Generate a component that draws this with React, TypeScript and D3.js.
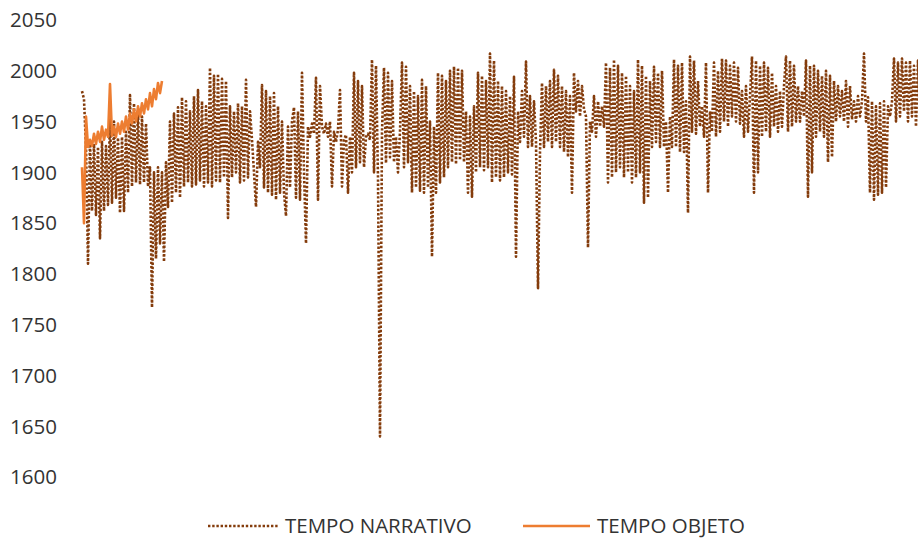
import React from "react";
import * as d3 from "d3";

const yTicks = [1600, 1650, 1700, 1750, 1800, 1850, 1900, 1950, 2000, 2050];

const seriesNames = ["TEMPO NARRATIVO", "TEMPO OBJETO"];

const tempoNarrativo = [
  1980, 1972, 1925, 1810, 1930, 1862, 1928, 1858, 1925, 1835,
  1930, 1862, 1926, 1868, 1955, 1870, 1950, 1875, 1934, 1860,
  1935, 1862, 1940, 1880, 1976, 1886, 1968, 1890, 1960, 1888,
  1955, 1890, 1948, 1886, 1905, 1767, 1900, 1815, 1905, 1830,
  1900, 1812, 1910, 1866, 1950, 1870, 1958, 1880, 1964, 1875,
  1974, 1886, 1970, 1890, 1960, 1886, 1975, 1888, 1981, 1892,
  1970, 1886, 1965, 1890, 2003, 1886, 1995, 1892, 1997, 1890,
  1992, 1895, 1990, 1855, 1965, 1895, 1960, 1900, 1968, 1890,
  1965, 1892, 1991, 1895, 1960, 1932, 1900, 1866, 1930, 1905,
  1986, 1885, 1980, 1880, 1975, 1878, 1978, 1873, 1965, 1880,
  1950, 1880, 1857, 1945, 1885, 1950, 1964, 1875, 1960, 1873,
  1998, 1900, 1830, 1945, 1935, 1948, 1938, 1993, 1873, 1985,
  1945, 1938, 1948, 1935, 1950, 1886, 1940, 1930, 1942, 1981,
  1886, 1932, 1937, 1880, 1935, 1900, 1998, 1905, 1990, 1910,
  1985, 1905, 1935, 1938, 1932, 2011, 1900, 2005, 1895, 1640,
  1940, 2003, 1909, 1998, 1915, 1990, 1910, 1935, 1900, 1940,
  2008, 1905, 2004, 1910, 1985, 1880, 1980, 1885, 1975, 1882,
  1991, 1880, 1985, 1885, 1950, 1817, 1945, 1880, 1998, 1890,
  1995, 1895, 1990, 1905, 2000, 1910, 2004, 1908, 2003, 1912,
  2000, 1910, 1960, 1880, 1955, 1876, 1965, 1900, 1998, 1905,
  1995, 1902, 1990, 1905, 2017, 1890, 2010, 1895, 1990, 1892,
  1985, 1895, 1980, 1900, 1975, 1898, 1994, 1817, 1960, 1930,
  1980, 1935, 2009, 1925, 1975, 1925, 1970, 1930, 1786, 1920,
  1988, 1925, 1985, 1930, 1990, 1925, 2001, 1930, 1995, 1925,
  1985, 1920, 1980, 1915, 1975, 1880, 1998, 1960, 1990, 1955,
  1985, 1962, 1955, 1826, 1950, 1940, 1975, 1935, 1970, 1945,
  1965, 1945, 2008, 1890, 2003, 1895, 2011, 1900, 2005, 1905,
  1998, 1895, 1995, 1900, 1985, 1890, 1980, 1895, 2011, 1900,
  2005, 1870, 1995, 1875, 1990, 1925, 2004, 1930, 1998, 1925,
  2000, 1925, 1950, 1880, 1955, 1925, 2011, 1925, 2005, 1920,
  2008, 1920, 1970, 1860, 2014, 1940, 2010, 1938, 1990, 1945,
  1965, 1935, 2008, 1880, 1960, 1940, 2008, 1935, 2000, 1940,
  2012, 1950, 2010, 1945, 2005, 1955, 2008, 1950, 2003, 1948,
  1980, 1935, 1985, 1940, 1975, 2014, 1880, 2010, 1900, 2005,
  1935, 2008, 1940, 2003, 1935, 1998, 1945, 1985, 1940, 1980,
  1945, 1985, 2014, 1940, 2010, 1945, 2005, 1950, 1985, 1950,
  1980, 1955, 2010, 1876, 2005, 1900, 2005, 1935, 2000, 1940,
  1995, 1935, 2000, 1910, 1995, 1915, 1990, 1950, 1985, 1955,
  1980, 1950, 1990, 1945, 1985, 1952, 1970, 1950, 1975, 1955,
  1970, 2017, 1950, 1974, 1880, 1970, 1873, 1965, 1878, 1968,
  1880, 1970, 1885, 1965, 1955, 1970, 2012, 1950, 2008, 1955,
  2012, 1960, 2008, 1950, 2010, 1955, 2005, 1945, 2010, 1950,
];

const tempoObjeto = [
  1905, 1850, 1955, 1925, 1932, 1926, 1938, 1928, 1940, 1930,
  1945, 1932, 1942, 1935, 1987, 1936, 1945, 1935, 1948, 1938,
  1950, 1940, 1955, 1942, 1958, 1948, 1962, 1950, 1965, 1955,
  1968, 1958, 1972, 1962, 1978, 1965, 1982, 1972, 1988, 1978,
  1990,
];

const W = 918;
const H = 540;
const FONT = "'Open Sans', 'Noto Sans', sans-serif";
const TEXT = "#333333";

export default function App() {
  const y = d3.scaleLinear().domain([1600, 2050]).range([477, 20]);
  const x = d3
    .scaleLinear()
    .domain([0, tempoNarrativo.length - 1])
    .range([82, 920]);

  const line = d3
    .line<number>()
    .x((_, i) => x(i))
    .y((d) => y(d));

  const legendY = 526;

  return (
    <div style={{ position: "fixed", left: 0, top: 0 }}>
      <svg width={W} height={H} style={{ display: "block", background: "#fff" }}>
        <defs>
          <clipPath id="plot">
            <rect x={0} y={0} width={W} height={H} />
          </clipPath>
        </defs>
        {yTicks.map((t) => (
          <text
            key={t}
            x={57}
            y={y(t)}
            dy="0.36em"
            textAnchor="end"
            fontFamily={FONT}
            fontSize={20.5}
            fill={TEXT}
          >
            {t}
          </text>
        ))}
        <g clipPath="url(#plot)">
          <path
            d={line(tempoNarrativo) || ""}
            fill="none"
            stroke="#843C0C"
            strokeWidth={2.6}
            strokeDasharray="2.4 1.8"
            strokeLinejoin="round"
          />
          <path
            d={line(tempoObjeto) || ""}
            fill="none"
            stroke="#ED7D31"
            strokeWidth={2.6}
            strokeLinejoin="round"
          />
        </g>
        <g>
          <line
            x1={208}
            x2={278}
            y1={legendY}
            y2={legendY}
            stroke="#843C0C"
            strokeWidth={2.6}
            strokeDasharray="2.4 1.8"
          />
          <text
            x={285}
            y={legendY}
            dy="0.36em"
            fontFamily={FONT}
            fontSize={20.5}
            fill={TEXT}
          >
            {seriesNames[0]}
          </text>
          <line
            x1={523}
            x2={590}
            y1={legendY}
            y2={legendY}
            stroke="#ED7D31"
            strokeWidth={2.6}
          />
          <text
            x={597}
            y={legendY}
            dy="0.36em"
            fontFamily={FONT}
            fontSize={20.5}
            fill={TEXT}
          >
            {seriesNames[1]}
          </text>
        </g>
      </svg>
    </div>
  );
}
